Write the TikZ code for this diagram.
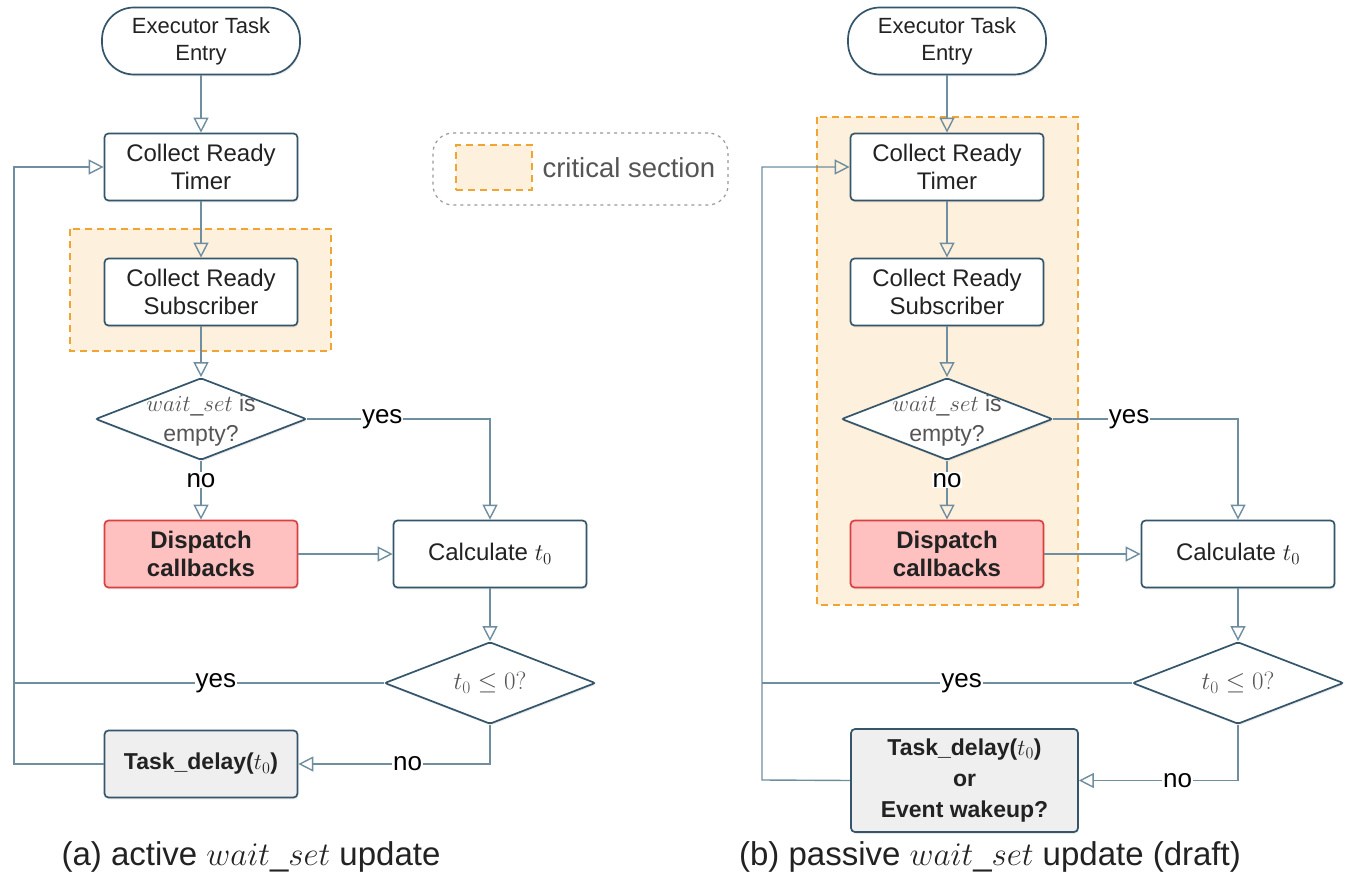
\RequirePackage{fix-cm}
\documentclass[tikz,border=0pt]{standalone}
\usepackage{fontspec}
\setmainfont{Liberation Sans}
\usetikzlibrary{arrows.meta,shapes.geometric,shadows,calc}
\definecolor{boxc}{HTML}{35556B}
\definecolor{linec}{HTML}{6F8FA0}
\definecolor{textc}{HTML}{222222}
\definecolor{critfill}{HTML}{FDF0DD}
\definecolor{critdraw}{HTML}{F0A532}
\definecolor{dispfill}{HTML}{FFC0C0}
\definecolor{dispdraw}{HTML}{D94040}
\definecolor{taskfill}{HTML}{EFEFEF}
\definecolor{dtextc}{HTML}{555555}
\definecolor{legc}{HTML}{999999}
\tikzset{
  shad/.style={drop shadow={opacity=0.18,shadow xshift=0.8pt,shadow yshift=-1.8pt}},
  box/.style={shape=rectangle, rounded corners=4pt, draw=boxc, line width=1.7pt, fill=white,
    minimum width=193pt, minimum height=67pt, align=center, text=textc, shad,
    font=\fontsize{24}{28}\selectfont},
  entrybox/.style={box, rounded corners=32pt, minimum width=198pt,
    font=\fontsize{22}{27}\selectfont},
  dispbox/.style={box, fill=dispfill, draw=dispdraw, font=\bfseries\fontsize{24}{28}\selectfont},
  taskbox/.style={box, fill=taskfill, font=\bfseries\fontsize{23}{31}\selectfont},
  dia/.style={shape=diamond, draw=boxc, line width=1.7pt, fill=white, rounded corners=2pt,
    minimum width=211pt, minimum height=82pt, inner sep=0pt, shad},
  dtext/.style={align=center, text=dtextc, font=\fontsize{23}{30}\selectfont},
  conn/.style={draw=linec, line width=1.4pt},
  arr/.style={conn, -{Triangle[open,length=15pt,width=15pt,line width=1.4pt]}},
  lbl/.style={fill=white, inner sep=1pt, text=black, font=\fontsize{26}{28}\selectfont},
  crit/.style={draw=critdraw, fill=critfill, line width=1.5pt, dash pattern=on 7pt off 5pt},
  caption/.style={text=textc, font=\fontsize{33}{38}\selectfont},
}
\begin{document}
\begin{tikzpicture}[x=1pt,y=-1pt]
\useasboundingbox[fill=white] (0,0) rectangle (1358,896);

% critical sections
\path[crit] (70,229) rectangle (331,351);
\path[crit] (817,117) rectangle (1078,605);

% legend
\node[draw=legc, line width=1.2pt, dash pattern=on 3pt off 4pt, rounded corners=20pt,
  minimum width=295pt, minimum height=72pt] (leg) at (580.5,169) {};
\node[crit, minimum width=76pt, minimum height=45pt] (legbox) at (494,167.5) {};
\node[text=dtextc, font=\fontsize{27.5}{30}\selectfont, anchor=west] (legtxt) at (539,168) {critical section};

% ---------- left diagram ----------
\node[entrybox] (E1) at (201,41) {Executor Task\\Entry};
\node[box] (T1) at (201,167) {Collect Ready\\Timer};
\node[box] (S1) at (201,292) {Collect Ready\\Subscriber};
\node[dia] (D1) at (201,419) {};
\node[dtext] (D1t) at (201,421) {$wait\_set$ is\\empty?};
\node[dispbox] (P1) at (201,554) {Dispatch\\callbacks};
\node[box] (C1) at (490,554) {Calculate $t_0$};
\node[dia] (Q1) at (490,683) {};
\node[dtext, font=\fontsize{25}{30}\selectfont] (Q1t) at (490,683) {$t_0\leq 0?$};
\node[taskbox] (K1) at (201,764) {Task\_delay($t_0$)};
\coordinate (L1) at (14,764);

\draw[arr] (E1) -- (T1);
\draw[arr] (T1) -- (S1);
\draw[arr] (S1) -- (D1);
\draw[arr] (D1) -- node[lbl, pos=0.33]{no} (P1);
\draw[arr] (D1.east) -| node[lbl, pos=0.205]{yes} (C1.north);
\draw[arr] (P1) -- (C1);
\draw[arr] (C1) -- (Q1);
\draw[arr] (Q1.south) |- node[lbl, pos=0.715]{no} (K1.east);
\draw[arr] (K1.west) -- (L1) |- (T1.west);
\draw[conn] (Q1.west) -- node[lbl, pos=0.454]{yes} (Q1.west -| L1);

\node[caption] (cap1) at (251,857) {(a) active $wait\_set$ update};

% ---------- right diagram ----------
\node[entrybox] (E2) at (947,41) {Executor Task\\Entry};
\node[box] (T2) at (947,167) {Collect Ready\\Timer};
\node[box] (S2) at (947,292) {Collect Ready\\Subscriber};
\node[dia] (D2) at (947,419) {};
\node[dtext] (D2t) at (947,421) {$wait\_set$ is\\empty?};
\node[dispbox] (P2) at (947,554) {Dispatch\\callbacks};
\node[box] (C2) at (1238,554) {Calculate $t_0$};
\node[dia] (Q2) at (1238,683) {};
\node[dtext, font=\fontsize{25}{30}\selectfont] (Q2t) at (1238,683) {$t_0\leq 0?$};
\node[taskbox, minimum width=227pt, minimum height=103pt] (K2) at (964.5,780.5) {Task\_delay($t_0$)\\or\\Event wakeup?};
\coordinate (L2) at (762,780);

\draw[arr] (E2) -- (T2);
\draw[arr] (T2) -- (S2);
\draw[arr] (S2) -- (D2);
\draw[arr] (D2) -- node[lbl, pos=0.33]{no} (P2);
\draw[arr] (D2.east) -| node[lbl, pos=0.205]{yes} (C2.north);
\draw[arr] (P2) -- (C2);
\draw[arr] (C2) -- (Q2);
\draw[arr] (Q2.south) |- node[lbl, pos=0.69]{no} (K2.east);
\draw[arr] (K2.west) -- (L2) |- (T2.west);
\draw[conn] (Q2.west) -- node[lbl, pos=0.46]{yes} (Q2.west -| L2);

\node[caption] (cap2) at (990,857) {(b) passive $wait\_set$ update (draft)};
\end{tikzpicture}
\end{document}
